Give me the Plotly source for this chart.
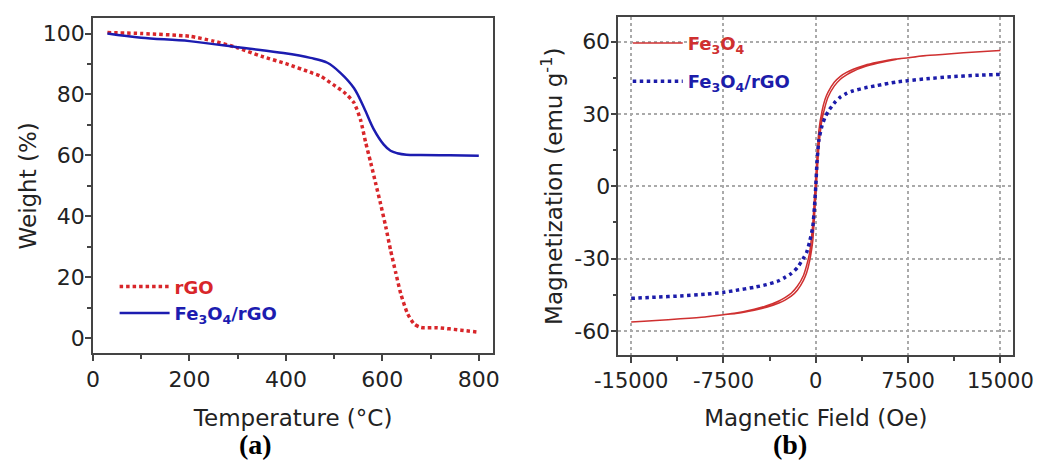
import plotly.graph_objects as go

# ---------------- Panel (a): TGA ----------------
t_rgo = [30, 100, 200, 250, 300, 350, 400, 450, 472, 498, 520, 541, 555, 565, 576, 586, 596, 607, 617, 628, 638, 652, 666, 680, 714, 763, 800]
w_rgo = [100.3, 100, 99.1, 97.5, 95.3, 92.5, 90.1, 87.3, 86.0, 83.2, 80.8, 77.3, 71.5, 64.5, 57.5, 50.9, 44.3, 36.6, 28.9, 21.3, 14.7, 8.1, 4.6, 3.5, 3.4, 2.6, 1.9]

t_fe = [30, 100, 200, 300, 326, 395, 451, 486, 513, 541, 562, 582, 603, 617, 631, 650, 680, 740, 800]
w_fe = [100, 98.6, 97.5, 95.5, 95.0, 93.6, 92.0, 90.4, 87.1, 82.1, 75.6, 68.6, 63.5, 61.5, 60.7, 60.2, 60.1, 60.0, 59.9]

# ---------------- Panel (b): VSM ----------------
h_rgo = [-15000, -13000, -11000, -9000, -7500, -6500, -5000, -4000, -3000, -2500, -2000, -1500, -1000, -750, -500, -250, -100, 0,
         100, 250, 500, 750, 1000, 1500, 2000, 2500, 3000, 4000, 5000, 6500, 7500, 9000, 11000, 13000, 15000]
m_rgo = [-46.5, -46.0, -45.5, -44.8, -44.0, -43.2, -41.9, -40.8, -39.2, -37.8, -36.2, -33.8, -29.8, -27.5, -23.0, -17.0, -8.0, 0.0,
         10.0, 19.0, 25.0, 28.5, 31.0, 34.5, 37.0, 38.5, 39.5, 40.8, 41.8, 43.2, 43.8, 44.6, 45.4, 46.0, 46.4]

h_fe_down = [15000, 13000, 11000, 9000, 7500, 6500, 5000, 4000, 3000, 2500, 2000, 1500, 1000, 750, 500, 250, 0,
             -250, -500, -750, -1000, -1500, -2000, -2500, -3000, -4000, -5000, -6500, -7500, -9000, -11000, -13000, -15000]
m_fe_down = [56.3, 55.7, 55.0, 54.2, 53.3, 52.8, 51.4, 50.2, 48.4, 47.2, 45.6, 43.1, 39.0, 36.0, 31.0, 23.0, 4.0,
             -16.0, -27.5, -33.0, -37.0, -41.5, -44.4, -46.2, -47.6, -49.6, -51.0, -52.6, -53.3, -54.2, -55.0, -55.7, -56.3]
h_fe_up = [-15000, -13000, -11000, -9000, -7500, -6500, -5000, -4000, -3000, -2500, -2000, -1500, -1000, -750, -500, -250, 0,
           250, 500, 750, 1000, 1500, 2000, 2500, 3000, 4000, 5000, 6500, 7500, 9000, 11000, 13000, 15000]
m_fe_up = [-56.3, -55.7, -55.0, -54.2, -53.3, -52.8, -51.4, -50.2, -48.4, -47.2, -45.6, -43.1, -39.0, -36.0, -31.0, -23.0, -4.0,
           16.0, 27.5, 33.0, 37.0, 41.5, 44.4, 46.2, 47.6, 49.6, 51.0, 52.6, 53.3, 54.2, 55.0, 55.7, 56.3]

x_ticks_a = [0, 200, 400, 600, 800]
y_ticks_a = [0, 20, 40, 60, 80, 100]
x_ticks_b = [-15000, -7500, 0, 7500, 15000]
x_labels_b = ["-15000", "-7500", "0", "7500", "15000"]
y_ticks_b = [-60, -30, 0, 30, 60]
y_labels_b = ["-60", "-30", "0", "30", "60"]

RED_A = "#d8262a"
BLUE_A = "#1c1cb0"
RED_B = "#cf3030"
BLUE_B = "#1c1caa"
FONT = "DejaVu Sans"

fig = go.Figure()

fig.add_trace(go.Scatter(x=t_rgo, y=w_rgo, mode="lines", line=dict(color=RED_A, width=3.5, dash="3.5px,3px", shape="spline", smoothing=0.6),
                         name=f"<span style='color:{RED_A}'><b>rGO</b></span>", legend="legend",
                         xaxis="x", yaxis="y"))
fig.add_trace(go.Scatter(x=t_fe, y=w_fe, mode="lines", line=dict(color=BLUE_A, width=2.5, shape="spline", smoothing=1.0),
                         name=f"<span style='color:{BLUE_A}'><b>Fe<sub>3</sub>O<sub>4</sub>/rGO</b></span>", legend="legend",
                         xaxis="x", yaxis="y"))

fig.add_trace(go.Scatter(x=h_fe_down + h_fe_up, y=m_fe_down + m_fe_up, mode="lines",
                         line=dict(color=RED_B, width=1.5, shape="spline", smoothing=0.6),
                         name=f"<span style='color:{RED_B}'><b>Fe<sub>3</sub>O<sub>4</sub></b></span>", legend="legend2",
                         legendgroup="g1", xaxis="x2", yaxis="y2"))
fig.add_trace(go.Scatter(x=h_rgo, y=m_rgo, mode="lines", line=dict(color=BLUE_B, width=3.5, dash="dot", shape="spline", smoothing=0.6),
                         name=f"<span style='color:{BLUE_B}'><b>Fe<sub>3</sub>O<sub>4</sub>/rGO</b></span>", legend="legend2",
                         legendgroup="g2", xaxis="x2", yaxis="y2"))

axis_common = dict(showline=True, linecolor="#444", linewidth=1.5, mirror=True, ticks="outside", ticklen=6,
                   tickwidth=1.5, tickcolor="#444", tickfont=dict(family=FONT, size=22, color="#222"),
                   zeroline=False, showgrid=False, automargin=False)
TITLE_FONT = dict(family=FONT, size=23, color="#222")
GRID = dict(showgrid=True, gridcolor="#aaaaaa", gridwidth=1.5, griddash="dot")

fig.update_layout(
    width=1040, height=475, margin=dict(l=0, r=0, t=0, b=0),
    paper_bgcolor="white", plot_bgcolor="white",
    font=dict(family=FONT, color="#222"),
    xaxis=dict(domain=[0.0894, 0.4743], range=[0, 830], tickvals=x_ticks_a, anchor="y",
               title=dict(text="Temperature (°C)", font=TITLE_FONT, standoff=18),
               minor=dict(ticks="outside", ticklen=4, dtick=100, tickcolor="#444", tickwidth=1.5),
               **axis_common),
    yaxis=dict(domain=[0.2562, 0.9615], range=[-5, 105], tickvals=y_ticks_a, anchor="x",
               title=dict(text="Weight (%)", font=TITLE_FONT, standoff=0), ticklabelstandoff=-4,
               minor=dict(ticks="outside", ticklen=4, dtick=10, tickcolor="#444", tickwidth=1.5),
               **axis_common),
    xaxis2=dict(domain=[0.5945, 0.9743], range=[-16050, 16050], tickvals=x_ticks_b, ticktext=x_labels_b, anchor="y2",
                title=dict(text="Magnetic Field (Oe)", font=TITLE_FONT, standoff=18),
                minor=dict(ticks="outside", ticklen=4, dtick=3750, tickcolor="#444", tickwidth=1.5),
                **{**axis_common, **GRID, "tickfont": dict(family=FONT, size=21, color="#222")}),
    yaxis2=dict(domain=[0.2526, 0.9632], range=[-70, 70], tickvals=y_ticks_b, ticktext=y_labels_b, anchor="x2",
                title=dict(text="Magnetization (emu g<sup>-1</sup>)", font=TITLE_FONT, standoff=5), ticklabelstandoff=-4,
                minor=dict(ticks="outside", ticklen=4, dtick=15, tickcolor="#444", tickwidth=1.5),
                **{**axis_common, **GRID}),
    legend=dict(x=0.1102, y=0.435, xanchor="left", yanchor="top", bgcolor="rgba(0,0,0,0)",
                font=dict(family=FONT, size=18), itemwidth=50, tracegroupgap=0),
    legend2=dict(x=0.6036, y=0.948, xanchor="left", yanchor="top", bgcolor="rgba(0,0,0,0)",
                 font=dict(family=FONT, size=18), itemwidth=50, tracegroupgap=12),
    annotations=[
        dict(text="<b>(a)</b>", x=0.405, y=0.027, xref="x domain", yref="paper", showarrow=False,
             font=dict(family="Liberation Serif", size=28, color="black")),
        dict(text="<b>(b)</b>", x=0.435, y=0.027, xref="x2 domain", yref="paper", showarrow=False,
             font=dict(family="Liberation Serif", size=28, color="black")),
    ],
)

fig.write_html("out.html", config={"displayModeBar": False},
               post_script="document.body.style.margin='0';")
